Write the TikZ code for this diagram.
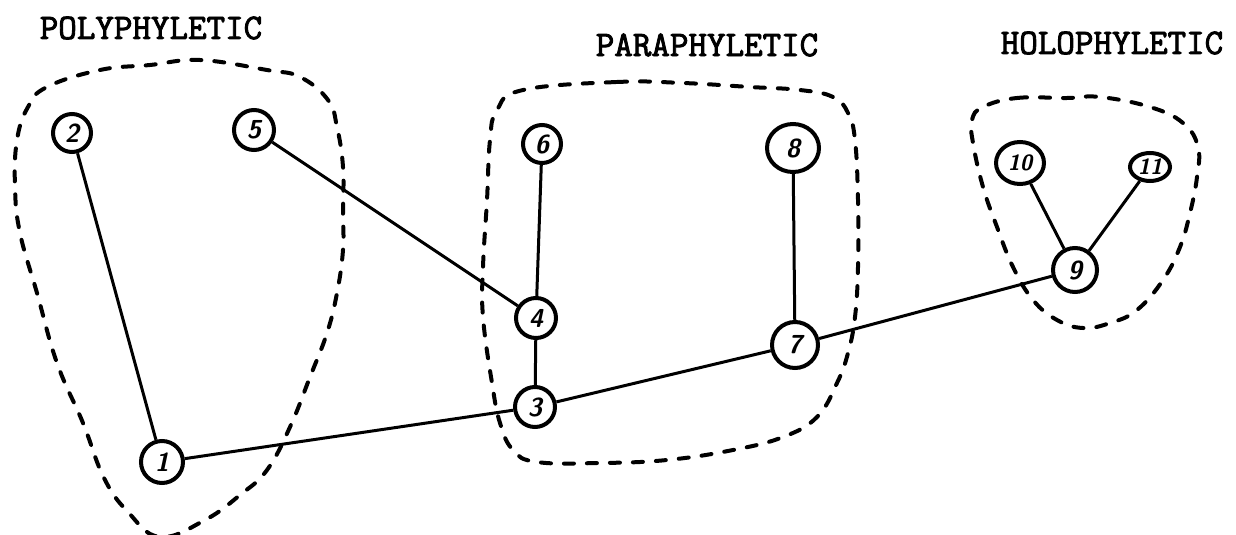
\documentclass[tikz,border=0pt]{standalone}
\usepackage{fontspec}
\newfontfamily\typew[FakeBold=2.5]{Latin Modern Mono}
\usetikzlibrary{shapes.geometric}
\begin{document}
\begin{tikzpicture}[x=0.5pt,y=-0.5pt,
  taxon/.style={circle,draw,line width=2pt,inner sep=0pt,font=\fontsize{13}{13}\selectfont\sffamily\bfseries\slshape},
  oval/.style={ellipse,draw,line width=2pt,inner sep=0pt,font=\fontsize{11}{11}\selectfont\sffamily\bfseries\slshape},
  branch/.style={line width=1.5pt},
  blob/.style={line width=2pt,dash pattern=on 5pt off 6.5pt,line cap=round},
  grouplabel/.style={font=\fontsize{18}{20}\selectfont\typew,inner sep=0pt}]
\useasboundingbox (0,0) rectangle (1236,535);
% group labels
\node[grouplabel] (lpoly) at (151,28) {POLYPHYLETIC};
\node[grouplabel] (lpara) at (707,45) {PARAPHYLETIC};
\node[grouplabel] (lholo) at (1112,43) {HOLOPHYLETIC};
% dashed outlines
\draw[blob] plot[smooth cycle,tension=0.7] coordinates {
 (47,87) (100,70) (150,65) (200,60) (267,70) (300,77) (328,100) (337,127) (343,167)
 (343,213) (343,250) (337,293) (327,333) (310,377) (290,427) (267,470) (240,495)
 (205,520) (160,537) (128,512) (104,478) (83,423) (57,363) (37,293) (20,233)
 (15,187) (17,140) (28,107)};
\draw[blob] plot[smooth cycle,tension=0.7] coordinates {
 (523,90) (617,82) (683,83) (750,87) (800,90) (833,97) (848,113) (855,140)
 (858,200) (858,267) (855,317) (848,353) (837,383) (817,417) (783,437) (733,450)
 (667,460) (600,463) (537,462) (513,450) (500,423) (492,383) (483,317) (483,267)
 (487,200) (490,140) (497,110)};
\draw[blob] plot[smooth cycle,tension=0.7] coordinates {
 (983,107) (1017,98) (1067,98) (1100,97) (1150,107) (1183,123) (1198,147)
 (1197,177) (1190,213) (1180,247) (1163,280) (1137,310) (1110,323) (1083,328)
 (1057,320) (1033,300) (1013,267) (997,227) (983,187) (973,143) (972,120)};
% taxa
\node[taxon,minimum size=21pt] (n1) at (162,462) {1};
\node[taxon,minimum size=19pt] (n2) at (72,133) {2};
\node[taxon,minimum size=20pt] (n3) at (535,407) {3};
\node[taxon,minimum size=20pt] (n4) at (536,318) {4};
\node[taxon,minimum size=20pt] (n5) at (254,130) {5};
\node[taxon,minimum size=19pt] (n6) at (542,144) {6};
\node[taxon,minimum size=23pt] (n7) at (795,345) {7};
\node[oval,font=\fontsize{13}{13}\selectfont\sffamily\bfseries\slshape,minimum width=26pt,minimum height=24pt] (n8) at (793,148) {8};
\node[taxon,minimum size=22pt] (n9) at (1075,270) {9};
\node[oval,minimum width=24pt,minimum height=21pt] (n10) at (1020,163) {10};
\node[oval,minimum width=20pt,minimum height=14pt] (n11) at (1150,167) {11};
% branches
\draw[branch] (n1) -- (n2);
\draw[branch] (n1) -- (n3);
\draw[branch] (n3) -- (n4);
\draw[branch] (n4) -- (n5);
\draw[branch] (n4) -- (n6);
\draw[branch] (n3) -- (n7);
\draw[branch] (n7) -- (n8);
\draw[branch] (n7) -- (n9);
\draw[branch] (n9) -- (n10);
\draw[branch] (n9) -- (n11);
\end{tikzpicture}
\end{document}
